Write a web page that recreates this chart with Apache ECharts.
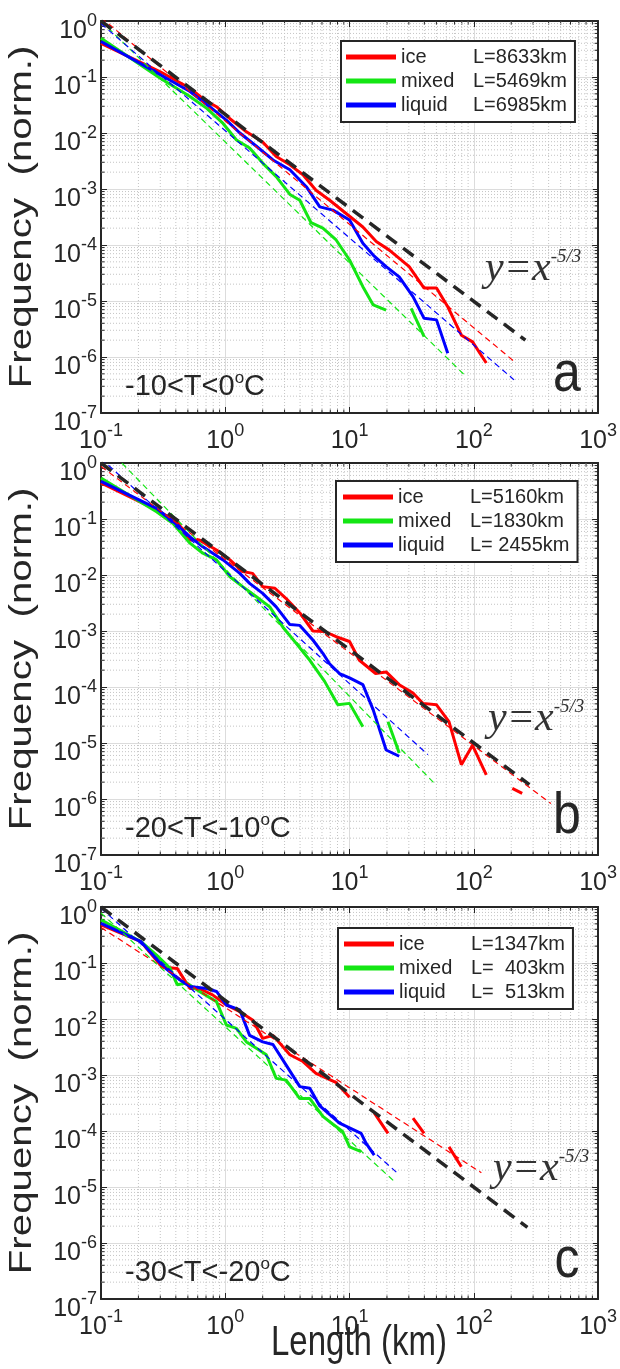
<!DOCTYPE html>
<html><head><meta charset="utf-8">
<script src="https://cdn.jsdelivr.net/npm/echarts@6/dist/echarts.min.js"></script>
<style>html,body{margin:0;padding:0;background:#fff}#c{width:620px;height:1369px}</style>
</head><body><div id="c"></div>
<script>
// ---------------- data (length in km, normalized frequency) ----------------
const a_ice_x = [0.1, 0.3, 0.52, 0.68, 0.85, 1.09, 1.48, 2.0, 2.57, 3.31, 4.22, 5.37, 6.92, 8.91, 12.8, 16.4, 20.9, 30.2, 39.8, 50.1, 61.7, 79.4, 97.7, 126];
const a_ice_y = [0.40, 0.124, 0.063, 0.039, 0.0295, 0.018, 0.0105, 0.0069, 0.0038, 0.0027, 0.0018, 9.5e-4, 6.3e-4, 4.0e-4, 2.1e-4, 1.15e-4, 8.1e-5, 4.1e-5, 1.7e-5, 1.7e-5, 7.9e-6, 2.45e-6, 1.86e-6, 7.8e-7];
const a_mix_x = [0.1, 0.3, 0.52, 0.71, 0.96, 1.23, 1.57, 2.0, 2.57, 3.31, 3.98, 4.9, 6.1, 7.8, 10, 12.8, 15.5, 19.7, 25, 31.3, 39.8];
const a_mix_y = [0.49, 0.095, 0.045, 0.0275, 0.0148, 0.0075, 0.0054, 0.0029, 0.00166, 8.0e-4, 6.3e-4, 2.5e-4, 2.0e-4, 1.23e-4, 5.4e-5, 1.8e-5, 8.5e-6, 6.9e-6, null, 7.4e-6, 2.3e-6];
const a_liq_x = [0.1, 0.3, 0.52, 0.75, 1.02, 1.31, 1.78, 2.42, 3.31, 4.49, 5.76, 7.35, 10, 12.8, 15.8, 19.7, 25.1, 32.4, 39.8, 50.1, 61.7];
const a_liq_y = [0.43, 0.11, 0.055, 0.0295, 0.017, 0.010, 0.0058, 0.0033, 0.0022, 0.0011, 4.8e-4, 4.2e-4, 2.8e-4, 1.07e-4, 6.3e-5, 4.1e-5, 2.7e-5, 1.2e-5, 4.9e-6, 4.6e-6, 1.17e-6];

const b_ice_x = [0.1, 0.28, 0.41, 0.52, 0.62, 0.85, 1.09, 1.38, 1.66, 2.0, 2.51, 3.09, 3.98, 5.07, 6.3, 7.8, 10, 12.0, 16.2, 19.7, 25.1, 32.4, 38.9, 50.1, 63.1, 79.4, 97.7, 126, 160, 204, 245];
const b_ice_y = [0.44, 0.145, 0.089, 0.042, 0.042, 0.028, 0.0186, 0.0115, 0.0107, 0.0062, 0.0058, 0.0038, 0.0021, 0.0010, 9.8e-4, 7.9e-4, 6.5e-4, 3.0e-4, 1.74e-4, 1.86e-4, 1.1e-4, 7.8e-5, 5.1e-5, 4.8e-5, 2.4e-5, 4.1e-6, 9.1e-6, 2.7e-6, null, 1.55e-6, 1.26e-6];
const b_mix_x = [0.1, 0.28, 0.38, 0.52, 0.66, 0.85, 1.09, 1.38, 1.78, 2.28, 2.91, 3.72, 4.79, 6.3, 8.05, 10, 12.8, 16, 20.4, 25.1];
const b_mix_y = [0.54, 0.135, 0.083, 0.037, 0.0245, 0.0186, 0.0093, 0.0062, 0.0041, 0.0027, 0.00117, 6.0e-4, 3.0e-4, 1.26e-4, 4.8e-5, 5.1e-5, 1.95e-5, null, 2.4e-5, 6.6e-6];
const b_liq_x = [0.1, 0.28, 0.43, 0.52, 0.66, 0.96, 1.31, 1.57, 2.0, 2.57, 3.31, 3.98, 5.07, 6.1, 6.9, 8.3, 10, 12.8, 15.5, 19.7, 25.1];
const b_liq_y = [0.47, 0.155, 0.072, 0.048, 0.032, 0.0186, 0.0107, 0.0071, 0.0047, 0.0027, 0.0013, 0.00126, 6.9e-4, 4.0e-4, 2.6e-4, 1.74e-4, 1.45e-4, 1.1e-4, 3.9e-5, 7.5e-6, 5.8e-6];

const c_ice_x = [0.1, 0.21, 0.31, 0.41, 0.52, 0.62, 0.79, 1.02, 1.31, 1.67, 2.0, 2.42, 3.31, 4.22, 5.37, 7.76, 10, 12.5, 15.8, 20.4, 26, 32.4, 39.8, 50, 63.1, 79.4];
const c_ice_y = [0.48, 0.24, 0.085, 0.080, 0.035, 0.035, 0.027, 0.0178, 0.0135, 0.0095, 0.0045, 0.0051, 0.0023, 0.00174, 0.00107, 7.4e-4, 4.0e-4, null, 2.1e-4, 9.1e-5, null, 1.7e-4, 9.1e-5, null, 5.2e-5, 2.3e-5];
const c_mix_x = [0.1, 0.21, 0.28, 0.36, 0.41, 0.49, 0.62, 0.85, 1.02, 1.23, 1.48, 1.78, 2.14, 2.57, 3.09, 3.98, 4.79, 6.1, 7.35, 8.8, 10, 12.4];
const c_mix_y = [0.59, 0.24, 0.138, 0.080, 0.041, 0.044, 0.031, 0.0204, 0.0078, 0.0068, 0.0039, 0.0030, 0.0023, 8.7e-4, 8.1e-4, 3.8e-4, 3.8e-4, 1.82e-4, 1.32e-4, 9.8e-5, 5.2e-5, 4.3e-5];
const c_liq_x = [0.1, 0.21, 0.32, 0.43, 0.52, 0.71, 0.85, 1.02, 1.31, 1.57, 2.0, 2.42, 3.09, 3.98, 4.79, 5.76, 8.3, 12.4, 13.6, 15.8];
const c_liq_y = [0.51, 0.24, 0.085, 0.050, 0.038, 0.035, 0.031, 0.0178, 0.0145, 0.0051, 0.0039, 0.0035, 0.0015, 6.2e-4, 5.8e-4, 2.8e-4, 1.38e-4, 9.1e-5, 6.0e-5, 3.7e-5];

// power-law fit lines (end points) and the y=x^-5/3 reference line
const a_fit_ice_x = [0.1, 219], a_fit_ice_y = [1.15, 7.8e-7];
const a_fit_mix_x = [0.1, 84],  a_fit_mix_y = [1.0, 4.8e-7];
const a_fit_liq_x = [0.1, 211], a_fit_liq_y = [0.9, 3.9e-7];
const a_ref_x = [0.1, 260],     a_ref_y = [1.0, 2.0e-6];
const b_fit_ice_x = [0.1, 417], b_fit_ice_y = [0.87, 8.3e-7];
const b_fit_mix_x = [0.1, 48.2], b_fit_mix_y = [2.4, 1.9e-6];
const b_fit_liq_x = [0.1, 42.7], b_fit_liq_y = [1.2, 6.2e-6];
const b_ref_x = [0.1, 280],     b_ref_y = [1.0, 1.8e-6];
const c_fit_ice_x = [0.1, 115], c_fit_ice_y = [0.43, 1.8e-5];
const c_fit_mix_x = [0.1, 22.9], c_fit_mix_y = [0.78, 1.26e-5];
const c_fit_liq_x = [0.1, 24.5], c_fit_liq_y = [0.95, 1.74e-5];
const c_ref_x = [0.1, 270],     c_ref_y = [1.0, 1.9e-6];

const legendNames = ['ice', 'mixed', 'liquid'];
const a_lengths = ['L=8633km', 'L=5469km', 'L=6985km'];
const b_lengths = ['L=5160km', 'L=1830km', 'L= 2455km'];
const c_lengths = ['L=1347km', 'L=  403km', 'L=  513km'];
const tempLabels = ['-10<T<0', '-20<T<-10', '-30<T<-20'];
const panelLetters = ['a', 'b', 'c'];
const xRange = [0.1, 1000], yRange = [1e-7, 1];
const minorMult = [2, 3, 4, 5, 6, 7, 8, 9];
const xDecades = [0.1, 1, 10, 100];
const yDecades = [1e-7, 1e-6, 1e-5, 1e-4, 1e-3, 1e-2, 1e-1];

// ---------------- chart ----------------
const TXT = '#262626';
const FONT = '"Liberation Sans", Arial, sans-serif';
const SERIF = '"Liberation Serif", "Times New Roman", serif';
const COL = {ice: '#ff0000', mix: '#14e614', liq: '#0000ff'};
const tops = [21, 463, 907];
const GL = 101, GW = 498, GH = 392;
const legPos = [[341, 20, 5], [336, 18, 7], [338, 21, 6]];

const panels = [
  {k: 'a', ice: [a_ice_x, a_ice_y], mix: [a_mix_x, a_mix_y], liq: [a_liq_x, a_liq_y],
   fit: {ice: [a_fit_ice_x, a_fit_ice_y], mix: [a_fit_mix_x, a_fit_mix_y], liq: [a_fit_liq_x, a_fit_liq_y]}, ref: [a_ref_x, a_ref_y], L: a_lengths},
  {k: 'b', ice: [b_ice_x, b_ice_y], mix: [b_mix_x, b_mix_y], liq: [b_liq_x, b_liq_y],
   fit: {ice: [b_fit_ice_x, b_fit_ice_y], mix: [b_fit_mix_x, b_fit_mix_y], liq: [b_fit_liq_x, b_fit_liq_y]}, ref: [b_ref_x, b_ref_y], L: b_lengths},
  {k: 'c', ice: [c_ice_x, c_ice_y], mix: [c_mix_x, c_mix_y], liq: [c_liq_x, c_liq_y],
   fit: {ice: [c_fit_ice_x, c_fit_ice_y], mix: [c_fit_mix_x, c_fit_mix_y], liq: [c_fit_liq_x, c_fit_liq_y]}, ref: [c_ref_x, c_ref_y], L: c_lengths}
];

function pairs(xs, ys) { return xs.map((x, i) => ys[i] == null ? [x, '-'] : [x, ys[i]]); }
const supFmt = v => '{b|10}{s|' + Math.round(Math.log10(v)) + '}';
const tickRich = {
  b: {fontSize: 25, fontFamily: FONT, color: TXT, lineHeight: 32, verticalAlign: 'bottom'},
  s: {fontSize: 18, fontFamily: FONT, color: TXT, lineHeight: 16, verticalAlign: 'top'}
};
const xMinor = [], yMinor = [];
xDecades.forEach(d => minorMult.forEach(m => xMinor.push(d * m)));
yDecades.forEach(d => minorMult.forEach(m => yMinor.push(d * m)));

const grid = [], xAxis = [], yAxis = [], series = [], legend = [], graphic = [];
const axisLineStyle = {show: true, onZero: false, lineStyle: {color: TXT, width: 2}};
const tickStyle = {show: true, inside: true, length: 6, lineStyle: {color: TXT, width: 1}};

panels.forEach((p, i) => {
  grid.push({left: GL, top: tops[i], width: GW, height: GH, containLabel: false});
  const xBase = {gridIndex: i, type: 'log', logBase: 10, min: xRange[0], max: xRange[1], splitNumber: 4, axisLine: axisLineStyle, axisTick: tickStyle};
  const yBase = {gridIndex: i, type: 'log', logBase: 10, min: yRange[0], max: yRange[1], splitNumber: 7, axisLine: axisLineStyle, axisTick: tickStyle};
  xAxis.push(Object.assign({}, xBase, {position: 'bottom',
    axisLabel: {margin: 9, formatter: supFmt, rich: tickRich},
    splitLine: {show: true, lineStyle: {color: '#dcdcdc', width: 1}}}));
  xAxis.push(Object.assign({}, xBase, {position: 'top', axisLabel: {show: false}, splitLine: {show: false}}));
  yAxis.push(Object.assign({}, yBase, {position: 'left',
    axisLabel: {margin: 4, formatter: supFmt, rich: tickRich, padding: [14, 0, 0, 0]},
    splitLine: {show: true, lineStyle: {color: '#dcdcdc', width: 1}}}));
  yAxis.push(Object.assign({}, yBase, {position: 'right', axisLabel: {show: false}, splitLine: {show: false}}));

  const xi = 2 * i, yi = 2 * i;
  // minor grid + minor ticks (vertical)
  series.push({type: 'custom', xAxisIndex: xi, yAxisIndex: yi, silent: true, animation: false, z: 1,
    data: xMinor.map(v => [v, 1e-3]),
    renderItem: (prm, api) => {
      const v = api.value(0);
      const t = api.coord([v, yRange[1]]), b = api.coord([v, yRange[0]]);
      return {type: 'group', children: [
        {type: 'line', shape: {x1: t[0], y1: t[1], x2: b[0], y2: b[1]}, style: {stroke: '#c4c4c4', lineWidth: 1, lineDash: [1, 2]}},
        {type: 'line', shape: {x1: b[0], y1: b[1], x2: b[0], y2: b[1] - 3.5}, style: {stroke: TXT, lineWidth: 1}},
        {type: 'line', shape: {x1: t[0], y1: t[1], x2: t[0], y2: t[1] + 3.5}, style: {stroke: TXT, lineWidth: 1}}
      ]};
    }});
  series.push({type: 'custom', xAxisIndex: xi, yAxisIndex: yi, silent: true, animation: false, z: 1,
    data: yMinor.map(v => [1, v]),
    renderItem: (prm, api) => {
      const v = api.value(1);
      const l = api.coord([xRange[0], v]), r = api.coord([xRange[1], v]);
      return {type: 'group', children: [
        {type: 'line', shape: {x1: l[0], y1: l[1], x2: r[0], y2: r[1]}, style: {stroke: '#c4c4c4', lineWidth: 1, lineDash: [1, 2]}},
        {type: 'line', shape: {x1: l[0], y1: l[1], x2: l[0] + 3.5, y2: l[1]}, style: {stroke: TXT, lineWidth: 1}},
        {type: 'line', shape: {x1: r[0], y1: r[1], x2: r[0] - 3.5, y2: r[1]}, style: {stroke: TXT, lineWidth: 1}}
      ]};
    }});

  const keys = ['ice', 'mix', 'liq'];
  keys.forEach(k => {
    series.push({name: p.k + '_' + k, type: 'line', xAxisIndex: xi, yAxisIndex: yi, data: pairs(p[k][0], p[k][1]),
      symbol: 'none', showSymbol: false, connectNulls: false, animation: false, z: 3,
      lineStyle: {color: COL[k], width: 3}, itemStyle: {color: COL[k]}});
  });
  keys.forEach(k => {
    series.push({type: 'line', xAxisIndex: xi, yAxisIndex: yi, data: pairs(p.fit[k][0], p.fit[k][1]),
      symbol: 'none', animation: false, z: 4, silent: true,
      lineStyle: {color: COL[k], width: 1.2, type: [6, 4]}});
  });
  series.push({type: 'line', xAxisIndex: xi, yAxisIndex: yi, data: pairs(p.ref[0], p.ref[1]),
    symbol: 'none', animation: false, z: 5, silent: true,
    lineStyle: {color: TXT, width: 3.5, type: [13, 8]}});

  const map = {};
  keys.forEach((k, j) => map[p.k + '_' + k] = {n: legendNames[j], L: p.L[j]});
  legend.push({left: legPos[i][0], top: tops[i] + legPos[i][1], orient: 'vertical', data: keys.map(k => p.k + '_' + k),
    icon: 'rect', itemWidth: 50, itemHeight: 5, itemGap: 4, padding: [6, 8, 7, legPos[i][2]],
    borderColor: TXT, borderWidth: 2, backgroundColor: '#fff', selectedMode: false, z: 10,
    formatter: name => '{n|' + map[name].n + '}{l|' + map[name].L + '}',
    textStyle: {fontSize: 20, fontFamily: FONT, color: TXT, rich: {
      n: {width: 72, fontSize: 20, fontFamily: FONT, color: TXT},
      l: {width: 98, fontSize: 20, fontFamily: FONT, color: TXT}
    }}});

  // y-axis title
  graphic.push({type: 'text', x: 22, y: tops[i] + GH / 2, rotation: Math.PI / 2, scaleX: 1.3, z: 10,
    style: {text: 'Frequency  (norm.)', font: '31px ' + FONT, fill: TXT, align: 'center', verticalAlign: 'middle'}});
  // temperature range label
  graphic.push({type: 'text', x: 125, y: tops[i] + 349, z: 10,
    style: {text: '{a|' + tempLabels[i] + '}{s|o}{a|C}', align: 'left', verticalAlign: 'top',
      rich: {a: {fontSize: 29, fontFamily: FONT, fill: TXT, lineHeight: 34},
             s: {fontSize: 17, fontFamily: FONT, fill: TXT, lineHeight: 17, verticalAlign: 'top'}}}});
  // panel letter
  graphic.push({type: 'text', x: 567, y: tops[i] + 354, scaleY: 1.15, z: 10,
    style: {text: panelLetters[i], font: '50px ' + FONT, fill: TXT, align: 'center', verticalAlign: 'middle'}});
});

// y = x^-5/3 annotations
[[485, 247], [488, 697], [493, 1147]].forEach(pt => {
  graphic.push({type: 'text', x: pt[0], y: pt[1], z: 10,
    style: {text: '{m|y=x}{s|-5/3}', align: 'left', verticalAlign: 'top',
      rich: {m: {fontSize: 42, fontFamily: SERIF, fontStyle: 'italic', fill: '#333', lineHeight: 44},
             s: {fontSize: 19, fontFamily: SERIF, fontStyle: 'italic', fill: '#333', lineHeight: 20, verticalAlign: 'top'}}}});
});
// x-axis title
graphic.push({type: 'text', x: 359, y: 1343, scaleY: 1.3, z: 10,
  style: {text: 'Length (km)', font: '33px ' + FONT, fill: TXT, align: 'center', verticalAlign: 'middle'}});

const chart = echarts.init(document.getElementById('c'), null, {renderer: 'canvas', width: 620, height: 1369});
chart.setOption({animation: false, backgroundColor: '#fff', grid, xAxis, yAxis, series, legend, graphic});
</script>
</body></html>
